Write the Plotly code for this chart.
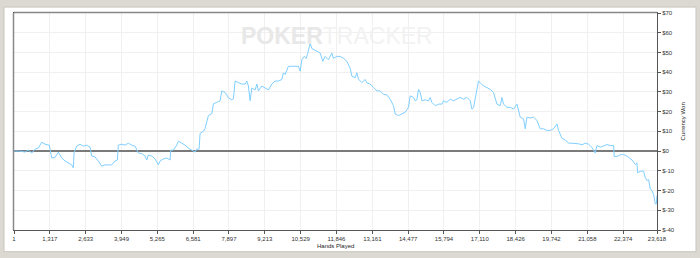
import plotly.graph_objects as go

hands = [1, 38, 221, 405, 526, 651, 773, 894, 1019, 1140, 1298, 1386, 1508, 1629, 1754, 1875,
         1996, 2121, 2180, 2206, 2305, 2426, 2548, 2672, 2794, 2856, 2978, 3099, 3224, 3345,
         3466, 3591, 3712, 3797, 3834, 3959, 4080, 4201, 4326, 4447, 4569, 4694, 4815, 4877,
         4936, 5061, 5182, 5304, 5366, 5487, 5612, 5734, 5759, 5855, 5980, 6039, 6163, 6285,
         6406, 6531, 6652, 6715, 6799, 6836, 6957, 7020, 7082, 7141, 7266, 7325, 7450, 7571,
         7633, 7755, 7876, 8001, 8060, 8122, 8243, 8368, 8490, 8552, 8611, 8673, 8736, 8857,
         8920, 8978, 9103, 9225, 9346, 9471, 9592, 9713, 9838, 9897, 9959, 10081, 10206, 10327,
         10448, 10511, 10573, 10658, 10731, 10779, 10878, 10941, 11025, 11124, 11246, 11345,
         11429, 11551, 11676, 11734, 11859, 11981, 12102, 12227, 12286, 12348, 12411, 12532,
         12594, 12653, 12778, 12899, 12962, 13083, 13204, 13329, 13450, 13572, 13697, 13818,
         13939, 14002, 14123, 14248, 14369, 14490, 14553, 14674, 14737, 14799, 14858, 14920,
         14983, 15104, 15225, 15288, 15350, 15472, 15593, 15718, 15777, 15901, 16023, 16144,
         16269, 16390, 16511, 16636, 16758, 16820, 16879, 16941, 17063, 17125, 17246, 17371,
         17493, 17614, 17739, 17860, 17923, 17981, 18106, 18228, 18349, 18474, 18595, 18716,
         18779, 18841, 18962, 19084, 19209, 19330, 19451, 19576, 19697, 19819, 19944, 20002,
         20127, 20249, 20370, 20495, 20616, 20737, 20862, 20984, 21105, 21230, 21351, 21414,
         21535, 21656, 21781, 21902, 22023, 22049, 22148, 22270, 22391, 22516, 22700, 22821,
         22883, 22905, 23005, 23126, 23188, 23251, 23310, 23372, 23435, 23493, 23556, 23593,
         23618]

won = [0, 0, 0, -0.5, 0.5, -1, 1, 1.5, 4.5, 3.5, 3, -3.5, -3.2, -0.5, -3.5, -5,
       -6, -7, -8.5, -1, 2.5, 3.5, 2.5, 3, 2, -2.5, -3, -5, -7.7, -7,
       -7, -7, -5, -4.5, 3, 3.5, 3, 4, 3, 2.5, -1, -1.3, -2.5, -4.5,
       -2, -2.5, -4, -7, -5, -4, -3.5, -4.5, 0.5, 0.5, 3, 5, 4, 3,
       1.5, 0.5, -0.5, 1, 1, 9, 10, 11.5, 15.5, 18, 19, 24, 24.7, 25.5,
       30.5, 29.7, 27, 26, 26.5, 35.5, 34.7, 34, 34, 35.5, 33, 25.5, 32, 31,
       34, 30.5, 33, 32, 31, 34, 35.5, 35.5, 36.3, 39.7, 38.8, 43, 43, 43,
       43, 40.5, 46.3, 48, 47, 49, 54.7, 52, 51.3, 50.5, 49.7, 45.5,
       48, 46.3, 49.7, 47, 48, 48, 47, 45.5, 43.8, 42, 38, 37.2,
       39.7, 36.5, 34.7, 36.3, 34.5, 34, 32.2, 30.5, 30.5, 28.8, 28.5, 26.3,
       23, 18.8, 18, 18.8, 19.7, 22.2, 28, 27.2, 25.5, 26, 31.3, 29.7,
       25.5, 26, 25.5, 27.2, 24.7, 23, 23.8, 23.8, 25.5, 24.7, 26.3, 25.5,
       26.3, 27.2, 26.3, 27.2, 25.5, 21.3, 22, 27.2, 35.5, 34.7, 33, 32.2,
       31.3, 29.7, 23.8, 23, 27.2, 23.8, 22.2, 22.2, 21.3, 23.8, 17.2, 16.3,
       11.3, 17.2, 16.8, 17.2, 15.5, 11.3, 11.3, 10.5, 10.5, 11.3, 13.8, 10.5,
       6.5, 5.7, 4, 4, 4, 3.7, 3.2, 4, 3.5, 1.8, -1, 2.8,
       2, 2.8, 3.3, 2.8, 2.8, -2.7, -2.7, -1.8, -1.8, -2.5, -4.5, -6.8,
       -6, -11, -10.2, -10.2, -13.5, -15, -14.5, -19.3, -20, -22, -26.8, -26.8,
       -22.5]

x_tickvals = [1, 1317, 2633, 3949, 5265, 6581, 7897, 9213, 10529, 11846, 13161,
              14477, 15794, 17110, 18426, 19742, 21058, 22374, 23618]
x_ticktext = ["1", "1,317", "2,633", "3,949", "5,265", "6,581", "7,897", "9,213",
              "10,529", "11,846", "13,161", "14,477", "15,794", "17,110", "18,426",
              "19,742", "21,058", "22,374", "23,618"]
y_tickvals = [-40, -30, -20, -10, 0, 10, 20, 30, 40, 50, 60, 70]
y_ticktext = ["$-40", "$-30", "$-20", "$-10", "$0", "$10", "$20", "$30", "$40",
              "$50", "$60", "$70"]

FONT = "Liberation Sans, Arial, sans-serif"

fig = go.Figure()
fig.add_trace(go.Scatter(x=hands, y=won, mode="lines",
                         line=dict(color="#80cfff", width=1), hoverinfo="skip"))

# plot area: x 14..657, y 10..230
W, H = 700, 258
L, R, T, B = 14, 657, 10, 230
pw, ph = R - L, B - T

def px(xp):
    return (xp - L) / pw

def py(yp):
    return (B - yp) / ph

fig.update_layout(
    width=W, height=H,
    margin=dict(l=L, r=W - R, t=T, b=H - B),
    paper_bgcolor="#dcd9d2",
    plot_bgcolor="white",
    showlegend=False,
    font=dict(family=FONT, size=6, color="#333333"),
    xaxis=dict(range=[1, 23618], tickvals=x_tickvals, ticktext=x_ticktext,
               showgrid=True, gridcolor="#f0f0f0", gridwidth=1,
               showline=True, linecolor="#555555", linewidth=1, mirror=True,
               ticks="outside", ticklen=3, tickcolor="#555555",
               tickfont=dict(size=6, color="#333333"), zeroline=False),
    yaxis=dict(range=[-40, 70], tickvals=y_tickvals, ticktext=y_ticktext, side="right",
               showgrid=True, gridcolor="#f0f0f0", gridwidth=1,
               showline=True, linecolor="#555555", linewidth=1, mirror=True,
               ticks="outside", ticklen=3, tickcolor="#555555",
               tickfont=dict(size=6, color="#333333"),
               zeroline=True, zerolinecolor="#7a7a7a", zerolinewidth=2),
    shapes=[
        dict(type="rect", xref="paper", yref="paper", layer="below",
             x0=px(4), x1=px(696), y0=py(252), y1=py(4),
             fillcolor="white", line=dict(color="#c9c5bd", width=1)),
        dict(type="line", xref="paper", yref="paper", layer="above",
             x0=px(L), x1=px(R), y0=py(T - 0.5), y1=py(T - 0.5),
             line=dict(color="#888888", width=1.5)),
        dict(type="line", xref="paper", yref="paper", layer="above",
             x0=px(L - 0.5), x1=px(L - 0.5), y0=py(B), y1=py(T),
             line=dict(color="#888888", width=1.5)),
    ],
    annotations=[
        dict(xref="paper", yref="paper", x=px(336.5), y=py(33), showarrow=False,
             xanchor="center", yanchor="middle",
             text="<b><span style='color:#e8e8e8'>POKER</span></b><span style='color:#f2f2f2'>TRACKER</span>",
             font=dict(family=FONT, size=23)),
        dict(xref="paper", yref="paper", x=px(335.5), y=py(246.5), showarrow=False,
             xanchor="center", yanchor="middle", text="Hands Played",
             font=dict(family=FONT, size=6, color="#222222")),
        dict(xref="paper", yref="paper", x=px(682), y=py(120), showarrow=False,
             xanchor="center", yanchor="middle", text="Currency Won", textangle=-90,
             font=dict(family=FONT, size=6, color="#222222")),
    ],
)

fig.write_html("out.html")
